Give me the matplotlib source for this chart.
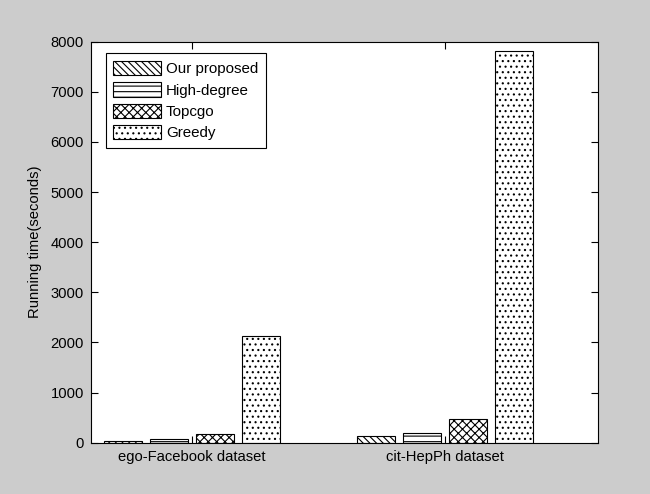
import matplotlib
matplotlib.use("Agg")
import matplotlib.pyplot as plt
import numpy as np

datasets = ["ego-Facebook dataset", "cit-HepPh dataset"]
methods = ["Our proposed", "High-degree", "Topcgo", "Greedy"]
running_time = {
    "Our proposed": [40, 128],
    "High-degree": [74, 194],
    "Topcgo": [168, 473],
    "Greedy": [2130, 7820],
}
y_ticks = [0, 1000, 2000, 3000, 4000, 5000, 6000, 7000, 8000]
BS = chr(92)
hatches = [BS * 5, "---", "x" * 4, "..."]

plt.rcParams["font.family"] = ["Liberation Sans", "DejaVu Sans"]
plt.rcParams["hatch.linewidth"] = 0.8
plt.rcParams["hatch.color"] = "black"

fig = plt.figure(figsize=(6.5, 4.94), dpi=100, facecolor="#cccccc")
ax = fig.add_axes([0.14, 0.1038, 0.78, 0.8118])
ax.set_facecolor("white")

x = np.arange(1, len(datasets) + 1)
step = 0.1818
width = 0.15
for i, m in enumerate(methods):
    off = (i - 1.5) * step
    ax.bar(x + off, running_time[m], width, color="white", edgecolor="black",
           linewidth=0.8, hatch=hatches[i], label=m)

ax.set_xlim(0.601, 2.605)
ax.set_ylim(0, 8000)
ax.set_xticks(x)
ax.set_xticklabels(datasets)
ax.set_yticks(y_ticks)
ax.set_yticklabels([str(v) for v in y_ticks])
ax.tick_params(direction="in", length=5, width=0.8, top=True, right=True,
               labelsize=10.6, pad=5, colors="black")
for s in ax.spines.values():
    s.set_linewidth(0.8)
ax.set_ylabel("Running time(seconds)", fontsize=10.6, labelpad=6)

leg = ax.legend(loc="upper left", bbox_to_anchor=(0.029, 0.971), borderaxespad=0,
                fontsize=10.9, handlelength=3.15, handleheight=1.08, labelspacing=0.4,
                handletextpad=0.32, borderpad=0.5, fancybox=False, framealpha=1,
                edgecolor="black")
leg.get_frame().set_linewidth(0.8)

fig.savefig("out.png", dpi=100, facecolor=fig.get_facecolor())
